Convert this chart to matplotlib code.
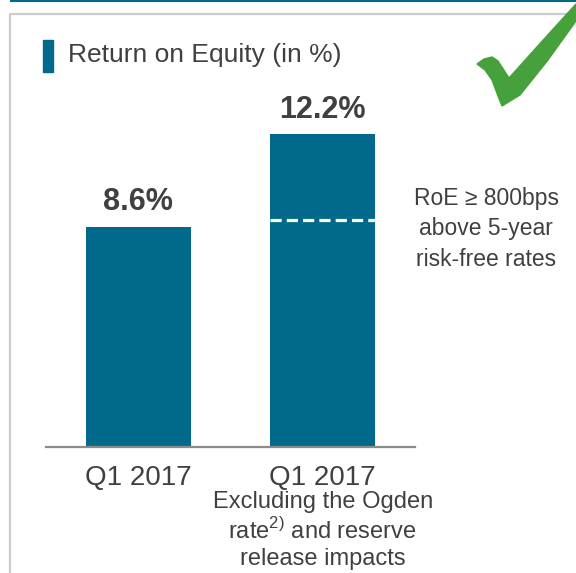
import numpy as np
import matplotlib
matplotlib.use("Agg")
import matplotlib.pyplot as plt
from matplotlib.lines import Line2D
from matplotlib.patches import Polygon, Rectangle

plt.rcParams["font.family"] = ["Liberation Sans", "DejaVu Sans"]
plt.rcParams["mathtext.fontset"] = "custom"
plt.rcParams["mathtext.rm"] = "Liberation Sans"

# ---------------------------------------------------------------------------
# Data
# ---------------------------------------------------------------------------
categories = ["Q1 2017", "Q1 2017"]
roe_values = [8.6, 12.2]
value_labels = ["8.6%", "12.2%"]
target_level = 8.85  # RoE target line shown inside the adjusted bar
sub_label = "Excluding the Ogden\nrate$^{\\mathrm{2)}}$ and reserve\nrelease impacts"
target_note = "RoE \u2265 800bps\nabove 5-year\nrisk-free rates"
title = "Return on Equity (in %)"

TEAL = "#00698c"
GREEN = "#46a03c"
TEXT = "#404040"
W, H = 576, 573


def px(x, y):
    """pixel position (from top-left) -> figure fraction"""
    return x / W, 1 - y / H


fig = plt.figure(figsize=(W / 100, H / 100), dpi=100)

# panel decoration: thin teal line on top, grey frame
fig.add_artist(Line2D([11 / W, 1], [1 - 0.8 / H] * 2, color=TEAL, lw=1.5,
                      transform=fig.transFigure))
fig.add_artist(Line2D([10 / W, 10 / W, 1], [0, 1 - 14 / H, 1 - 14 / H],
                      color="#cccccc", lw=1.6, transform=fig.transFigure))

# title with marker
x0, y0 = px(43, 72)
fig.add_artist(Rectangle((x0, y0), 10 / W, 32 / H, color=TEAL,
                         transform=fig.transFigure))
fig.text(*px(68, 55), title, fontsize=19, color=TEXT, va="center", ha="left")

# check mark
check = [(477, 64), (484, 59), (492, 57), (498, 61), (509, 78), (545, 38),
         (576, 4), (576, 21), (548, 60), (520, 95), (502, 106), (498, 96),
         (492, 80), (485, 70)]
fig.add_artist(Polygon([px(x, y) for x, y in check], closed=True, color=GREEN,
                       transform=fig.transFigure, zorder=5))

# ---------------------------------------------------------------------------
# Bars
# ---------------------------------------------------------------------------
ax = fig.add_axes([46 / W, 1 - 446.7 / H, 369 / W, 358.4 / H])
x = np.arange(len(categories))
bar_w = 0.57
ax.bar(x, roe_values, width=bar_w, color=TEAL, zorder=2)
ax.set_xlim(-0.5, 1.5)
ax.set_ylim(0, 14)

ax.hlines(target_level, x[1] - bar_w / 2, x[1] + bar_w / 2, colors="white",
          linewidth=2.3, linestyles=(0, (3.5, 1.6)), zorder=3)

for xi, v, lab in zip(x, roe_values, value_labels):
    ax.annotate(lab, xy=(xi, v), xytext=(0, 7), textcoords="offset points",
                ha="center", va="bottom", fontsize=22, fontweight="bold",
                color=TEXT)

for s in ["top", "left", "right"]:
    ax.spines[s].set_visible(False)
ax.spines["bottom"].set_color("#8c8c8c")
ax.spines["bottom"].set_linewidth(1.6)
ax.set_yticks([])
ax.set_xticks(x)
ax.set_xticklabels(categories, fontsize=20, color=TEXT)
ax.tick_params(axis="x", length=0, pad=13)

ax.annotate(sub_label, xy=(x[1], 0), xycoords=("data", "axes fraction"),
            xytext=(0, -32), textcoords="offset points", ha="center",
            va="top", fontsize=17, color=TEXT, linespacing=1.24,
            multialignment="center")

fig.text(*px(486, 229), target_note, ha="center", va="center", fontsize=16.5,
         color=TEXT, linespacing=1.42, multialignment="center")

fig.savefig("out.png", dpi=100)
